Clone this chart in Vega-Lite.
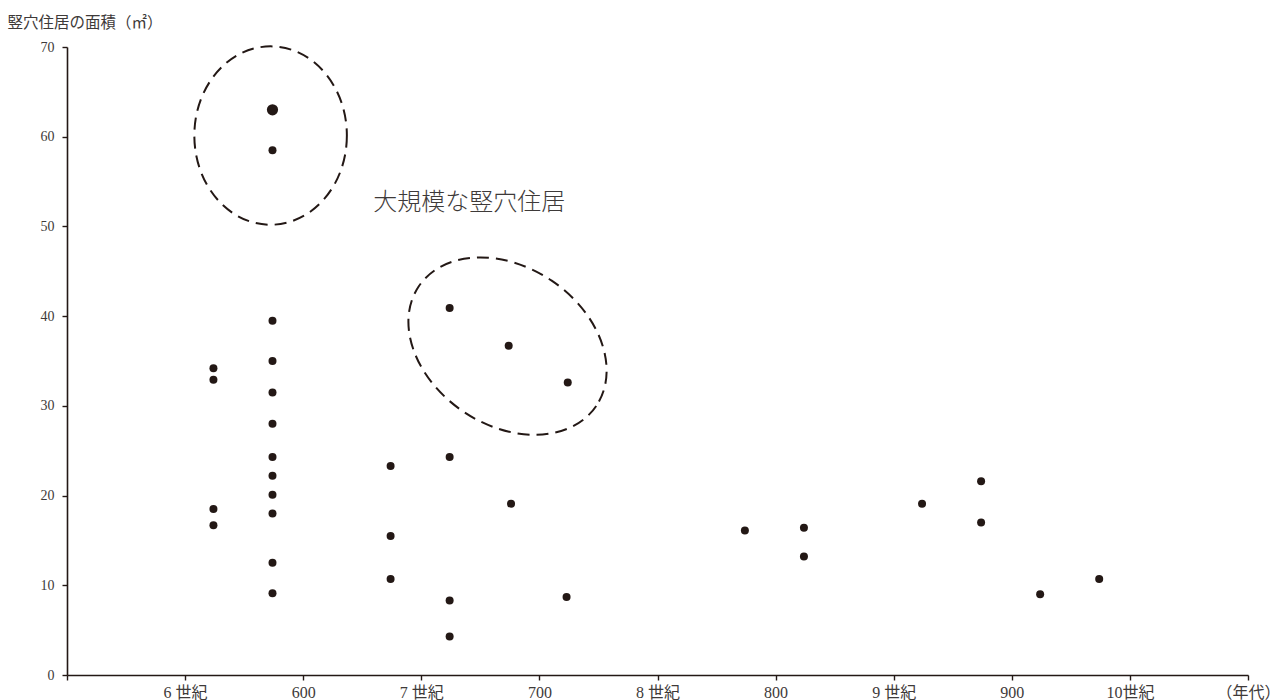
{
  "$schema": "https://vega.github.io/schema/vega-lite/v6.json",
  "autosize": "none",
  "width": 1181,
  "height": 628,
  "padding": {"left": 67, "top": 47, "right": 33, "bottom": 25},
  "background": "white",
  "config": {
    "view": {"stroke": null},
    "axis": {
      "grid": false,
      "domainColor": "#231815",
      "domainWidth": 1.6,
      "tickColor": "#231815",
      "tickWidth": 1.4,
      "tickSize": 5,
      "labelColor": "#3e3a39",
      "labelFont": "Liberation Serif, Noto Sans CJK JP",
      "titleColor": "#3e3a39",
      "titleFont": "Noto Sans CJK JP"
    }
  },
  "datasets": {
    "houses": [
      {"year": 562, "area": 34.2, "count": 1},
      {"year": 562, "area": 32.9, "count": 1},
      {"year": 562, "area": 18.5, "count": 1},
      {"year": 562, "area": 16.7, "count": 1},
      {"year": 587, "area": 63.0, "count": 2},
      {"year": 587, "area": 58.5, "count": 1},
      {"year": 587, "area": 39.5, "count": 1},
      {"year": 587, "area": 35.0, "count": 1},
      {"year": 587, "area": 31.5, "count": 1},
      {"year": 587, "area": 28.0, "count": 1},
      {"year": 587, "area": 24.3, "count": 1},
      {"year": 587, "area": 22.2, "count": 1},
      {"year": 587, "area": 20.1, "count": 1},
      {"year": 587, "area": 18.0, "count": 1},
      {"year": 587, "area": 12.5, "count": 1},
      {"year": 587, "area": 9.1, "count": 1},
      {"year": 637, "area": 23.3, "count": 1},
      {"year": 637, "area": 15.5, "count": 1},
      {"year": 637, "area": 10.7, "count": 1},
      {"year": 662, "area": 40.9, "count": 1},
      {"year": 662, "area": 24.3, "count": 1},
      {"year": 662, "area": 8.3, "count": 1},
      {"year": 662, "area": 4.3, "count": 1},
      {"year": 687, "area": 36.7, "count": 1},
      {"year": 688, "area": 19.1, "count": 1},
      {"year": 712, "area": 32.6, "count": 1},
      {"year": 711.5, "area": 8.7, "count": 1},
      {"year": 787, "area": 16.1, "count": 1},
      {"year": 812, "area": 16.4, "count": 1},
      {"year": 812, "area": 13.2, "count": 1},
      {"year": 862, "area": 19.1, "count": 1},
      {"year": 887, "area": 21.6, "count": 1},
      {"year": 887, "area": 17.0, "count": 1},
      {"year": 912, "area": 9.0, "count": 1},
      {"year": 937, "area": 10.7, "count": 1}
    ]
  },
  "layer": [
    {
      "data": {"name": "houses"},
      "mark": {"type": "circle", "color": "#231815", "opacity": 1},
      "encoding": {
        "x": {
          "field": "year",
          "type": "quantitative",
          "scale": {"domain": [500, 1000], "nice": false, "zero": false},
          "axis": {
            "title": null,
            "values": [500, 550, 600, 650, 700, 750, 800, 850, 900, 950, 1000],
            "labelExpr": "datum.value == 550 ? '6 世紀' : datum.value == 650 ? '7 世紀' : datum.value == 750 ? '8 世紀' : datum.value == 850 ? '9 世紀' : datum.value == 950 ? '10世紀' : datum.value == 1000 ? '（年代）' : datum.value == 500 ? '' : datum.label",
            "labelFontSize": 16,
            "labelPadding": 4,
            "labelFlush": false,
            "labelOverlap": false
          }
        },
        "y": {
          "field": "area",
          "type": "quantitative",
          "scale": {"domain": [0, 70], "nice": false},
          "axis": {
            "title": "竪穴住居の面積（㎡）",
            "values": [0, 10, 20, 30, 40, 50, 60, 70],
            "labelFontSize": 14,
            "labelPadding": 8,
            "titleAngle": 0,
            "titleAlign": "left",
            "titleBaseline": "middle",
            "titleX": -60,
            "titleY": -25,
            "titleFontSize": 15.5,
            "titleFontWeight": "normal"
          }
        },
        "size": {
          "field": "count",
          "type": "quantitative",
          "scale": {"domain": [1, 2], "range": [64, 125]},
          "legend": null
        }
      }
    },
    {
      "data": {"values": [{"year": 586.2, "area": 60.13}]},
      "mark": {
        "type": "point",
        "shape": "M 0.855 0 C 0.855 0.5523 0.4722 1 0 1 C -0.4722 1 -0.855 0.5523 -0.855 0 C -0.855 -0.5523 -0.4722 -1 0 -1 C 0.4722 -1 0.855 -0.5523 0.855 0 Z",
        "size": 31826,
        "filled": false,
        "color": "#231815",
        "opacity": 1,
        "strokeWidth": 2,
        "strokeDash": [12, 7]
      },
      "encoding": {
        "x": {"field": "year", "type": "quantitative"},
        "y": {"field": "area", "type": "quantitative"}
      }
    },
    {
      "data": {"values": [{"year": 686.5, "area": 36.66}]},
      "mark": {
        "type": "point",
        "shape": "M 1 0 C 1 0.4076 0.5523 0.738 0 0.738 C -0.5523 0.738 -1 0.4076 -1 0 C -1 -0.4076 -0.5523 -0.738 0 -0.738 C 0.5523 -0.738 1 -0.4076 1 0 Z",
        "size": 45796,
        "angle": 34,
        "filled": false,
        "color": "#231815",
        "opacity": 1,
        "strokeWidth": 2,
        "strokeDash": [12, 7]
      },
      "encoding": {
        "x": {"field": "year", "type": "quantitative"},
        "y": {"field": "area", "type": "quantitative"}
      }
    },
    {
      "data": {"values": [{"year": 629.7, "area": 52.64, "label": "大規模な竪穴住居"}]},
      "mark": {
        "type": "text",
        "align": "left",
        "baseline": "middle",
        "font": "Noto Sans CJK JP",
        "fontSize": 24,
        "fontWeight": 300,
        "color": "#3e3a39"
      },
      "encoding": {
        "x": {"field": "year", "type": "quantitative"},
        "y": {"field": "area", "type": "quantitative"},
        "text": {"field": "label"}
      }
    }
  ]
}
